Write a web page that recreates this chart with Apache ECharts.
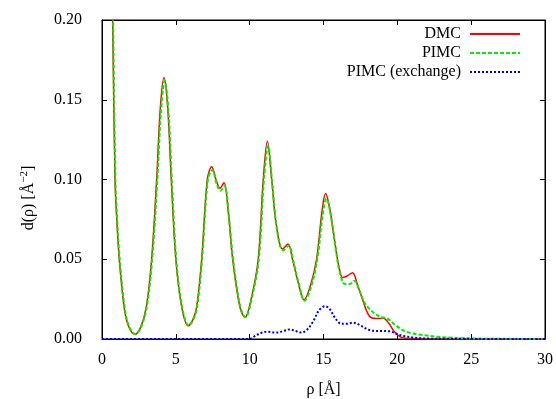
<!DOCTYPE html>
<html>
<head>
<meta charset="utf-8">
<script src="https://cdn.jsdelivr.net/npm/echarts@6/dist/echarts.min.js"></script>
<style>html,body{margin:0;padding:0;background:#fff}#c{width:556px;height:399px}</style>
</head>
<body>
<div id="c"></div>
<script>
var dmcX = [0.55,0.72,0.88,1.0,1.17,1.5,1.8,2.23,2.6,3.0,3.36,3.7,3.95,4.2,4.45,4.69,5.0,5.4,5.84,6.15,6.41,6.75,7.13,7.43,7.75,7.99,8.26,8.55,8.85,9.34,9.68,10.1,10.58,10.92,11.2,11.49,11.8,12.23,12.6,12.9,13.3,13.68,14.1,14.53,14.9,15.14,15.4,15.78,16.05,16.3,16.6,16.97,17.3,17.58,18.1,18.6,19.05,19.45,19.8,20.3,21.0,22.0,30.0];
var dmcY = [0.30,0.20,0.10,0.075,0.05,0.02,0.008,0.003,0.007,0.02,0.05,0.10,0.145,0.164,0.145,0.10,0.05,0.02,0.0083,0.012,0.02,0.05,0.10,0.108,0.099,0.0945,0.098,0.08,0.05,0.02,0.0136,0.025,0.05,0.10,0.124,0.10,0.072,0.0564,0.0596,0.05,0.035,0.0245,0.033,0.05,0.08,0.0913,0.083,0.06,0.045,0.0385,0.0395,0.0416,0.034,0.0265,0.0144,0.0128,0.013,0.0095,0.0046,0.001,0.0003,0.0,0.0];

var pimcX = [0.57,0.75,0.91,1.03,1.2,1.53,1.83,2.26,2.63,3.03,3.4,3.75,4.0,4.25,4.5,4.73,5.03,5.43,5.87,6.18,6.44,6.78,7.17,7.47,7.78,8.02,8.3,8.58,8.88,9.37,9.72,10.13,10.62,10.97,11.25,11.53,11.83,12.27,12.65,12.95,13.35,13.72,14.14,14.58,14.95,15.2,15.45,15.82,16.1,16.45,16.8,17.1,17.45,17.9,18.8,19.3,19.9,20.6,21.7,23.3,25.0,30.0];
var pimcY = [0.30,0.20,0.10,0.075,0.05,0.02,0.008,0.003,0.007,0.02,0.05,0.10,0.143,0.162,0.143,0.10,0.05,0.02,0.0085,0.012,0.02,0.05,0.10,0.106,0.097,0.093,0.096,0.078,0.05,0.02,0.0136,0.025,0.05,0.10,0.121,0.098,0.07,0.0555,0.0585,0.049,0.034,0.024,0.032,0.05,0.078,0.088,0.08,0.057,0.042,0.0345,0.0345,0.0365,0.03,0.021,0.014,0.013,0.0085,0.0046,0.0025,0.001,0.0003,0.0];

var exchX = [0.0,10.0,10.3,10.7,11.2,11.8,12.3,12.7,13.1,13.5,13.9,14.3,14.7,15.1,15.4,15.8,16.2,16.6,17.0,17.4,17.9,18.3,18.9,19.5,20.0,20.5,21.2,22.5,30.0];
var exchY = [0.0,0.0,0.0015,0.0035,0.0046,0.004,0.005,0.006,0.005,0.004,0.006,0.011,0.018,0.0205,0.019,0.013,0.0095,0.0095,0.0102,0.009,0.0065,0.0052,0.005,0.0048,0.003,0.0018,0.0008,0.0002,0.0];

var xTicks = [0,5,10,15,20,25,30];
var yTicks = [0.00,0.05,0.10,0.15,0.20];
var seriesNames = ['DMC','PIMC','PIMC (exchange)'];

function zip(xs, ys){ return xs.map(function(x,i){ return [x, ys[i]]; }); }

var FONT = 'Liberation Serif';
var chart = echarts.init(document.getElementById('c'), null, {renderer:'canvas'});

function axisCommon(extra){
  var o = {
    type:'value',
    show:true,
    axisLine:{show:true, onZero:false, lineStyle:{color:'#000', width:1}},
    axisTick:{show:true, inside:true, length:5, lineStyle:{color:'#000'}},
    splitLine:{show:false},
    axisLabel:{color:'#000', fontFamily:FONT, fontSize:16}
  };
  for (var k in extra) o[k] = extra[k];
  return o;
}

var hiddenLabel = {show:true, inside:true, color:'rgba(0,0,0,0)', fontSize:8};

function legendFor(name, top){
  return {
    data:[name], right:35, top:top, orient:'horizontal', align:'right',
    padding:0, itemWidth:50, itemHeight:14,
    itemStyle:{color:'rgba(0,0,0,0)', borderColor:'rgba(0,0,0,0)', borderWidth:0, opacity:0},
    textStyle:{color:'#000', fontFamily:FONT, fontSize:16, padding:[0,4,0,0]},
    selectedMode:false
  };
}

var option = {
  animation:false,
  backgroundColor:'#fff',
  grid:{left:102, right:11, top:20, bottom:60, containLabel:false, outerBoundsMode:'none',
    show:true, borderColor:'#000', borderWidth:1, backgroundColor:'transparent'},
  xAxis:[
    axisCommon({min:xTicks[0], max:xTicks[xTicks.length-1], interval:5, position:'bottom',
      axisLabel:{color:'#000', fontFamily:FONT, fontSize:16, margin:13},
      name:'ρ [Å]', nameLocation:'middle', nameGap:43,
      nameTextStyle:{color:'#000', fontFamily:FONT, fontSize:16}}),
    axisCommon({min:xTicks[0], max:xTicks[xTicks.length-1], interval:5, position:'top', axisLabel:hiddenLabel})
  ],
  yAxis:[
    axisCommon({min:yTicks[0], max:yTicks[yTicks.length-1], interval:0.05, position:'left',
      axisLabel:{color:'#000', fontFamily:FONT, fontSize:16, margin:20, formatter:function(v){return v.toFixed(2);}}}),
    axisCommon({min:yTicks[0], max:yTicks[yTicks.length-1], interval:0.05, position:'right', axisLabel:hiddenLabel})
  ],
  legend:[legendFor(seriesNames[0],26), legendFor(seriesNames[1],45), legendFor(seriesNames[2],64)],
  graphic:[{
    type:'text', x:29, y:198, rotation:Math.PI/2,
    style:{
      text:'{a|d(ρ) [Å}{s|−2}{a|]}',
      align:'center', verticalAlign:'middle',
      fill:'#000',
      rich:{
        a:{fontFamily:FONT, fontSize:16, fill:'#000', lineHeight:20},
        s:{fontFamily:FONT, fontSize:11, fill:'#000', verticalAlign:'top', lineHeight:20}
      }
    }
  }],
  series:[
    {name:seriesNames[0], type:'line', data:zip(dmcX,dmcY), showSymbol:false, symbol:'none', smooth:0.35, clip:true,
      lineStyle:{color:'#ff0000', width:1.5}, itemStyle:{color:'#ff0000'}, z:2},
    {name:seriesNames[1], type:'line', data:zip(pimcX,pimcY), showSymbol:false, symbol:'none', smooth:0.35, clip:true,
      lineStyle:{color:'#00ee00', width:2, type:[4,2]}, itemStyle:{color:'#00ee00'}, z:3},
    {name:seriesNames[2], type:'line', data:zip(exchX,exchY), showSymbol:false, symbol:'none', smooth:0.35, clip:true,
      lineStyle:{color:'#0000ee', width:2, type:[2,2]}, itemStyle:{color:'#0000ee'}, z:4}
  ]
};
chart.setOption(option);
</script>
</body>
</html>
